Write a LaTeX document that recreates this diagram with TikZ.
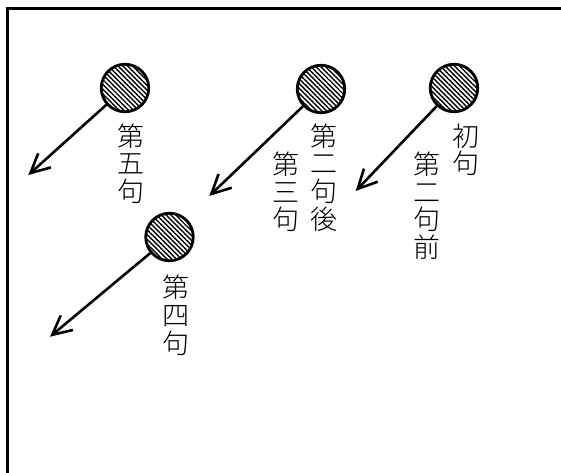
\documentclass[tikz,border=0pt]{standalone}
\usepackage{fontspec}
\newfontfamily\cjk{Noto Sans CJK JP Light}
\usetikzlibrary{arrows.meta,patterns.meta}
\begin{document}
\begin{tikzpicture}[x=1pt,y=-1pt,
  ball/.style={circle,draw,line width=2.8pt,minimum size=47.5pt,inner sep=0pt,
    pattern={Lines[angle=-45,distance=3.4pt,line width=1.4pt]}},
  arr/.style={line width=2.6pt,-{Straight Barb[length=19pt,width=19pt]}},
  lab/.style={anchor=north,inner sep=0pt,align=center,
    font=\cjk\fontsize{27}{27.8}\selectfont}]
\useasboundingbox (0,0) rectangle (561,472);
\clip (0,0) rectangle (561,472);
\draw[line width=2.7pt] (7.3,8.7) rectangle (620,520);

\node[ball] (c5) at (125,88) {};
\node[ball] (c2) at (321,89) {};
\node[ball] (c1) at (454,88) {};
\node[ball] (c4) at (169.5,237) {};

\coordinate (t5) at (28.3,175);
\coordinate (t2) at (209.3,196);
\coordinate (t1) at (355.7,191);
\coordinate (t4) at (50,336.7);

\draw[arr] (c5) -- (t5);
\draw[arr] (c2) -- (t2);
\draw[arr] (c1) -- (t1);
\draw[arr] (c4) -- (t4);

\node[lab] (l5) at (130.7,123.3) {第\\五\\句};
\node[lab] (l2b) at (324,123.3) {第\\二\\句\\後};
\node[lab] (l3) at (285.7,151.5) {第\\三\\句};
\node[lab] (l1) at (465.7,123.3) {初\\句};
\node[lab] (l2f) at (427.3,151.5) {第\\二\\句\\前};
\node[lab] (l4) at (175.7,275) {第\\四\\句};
\end{tikzpicture}
\end{document}
